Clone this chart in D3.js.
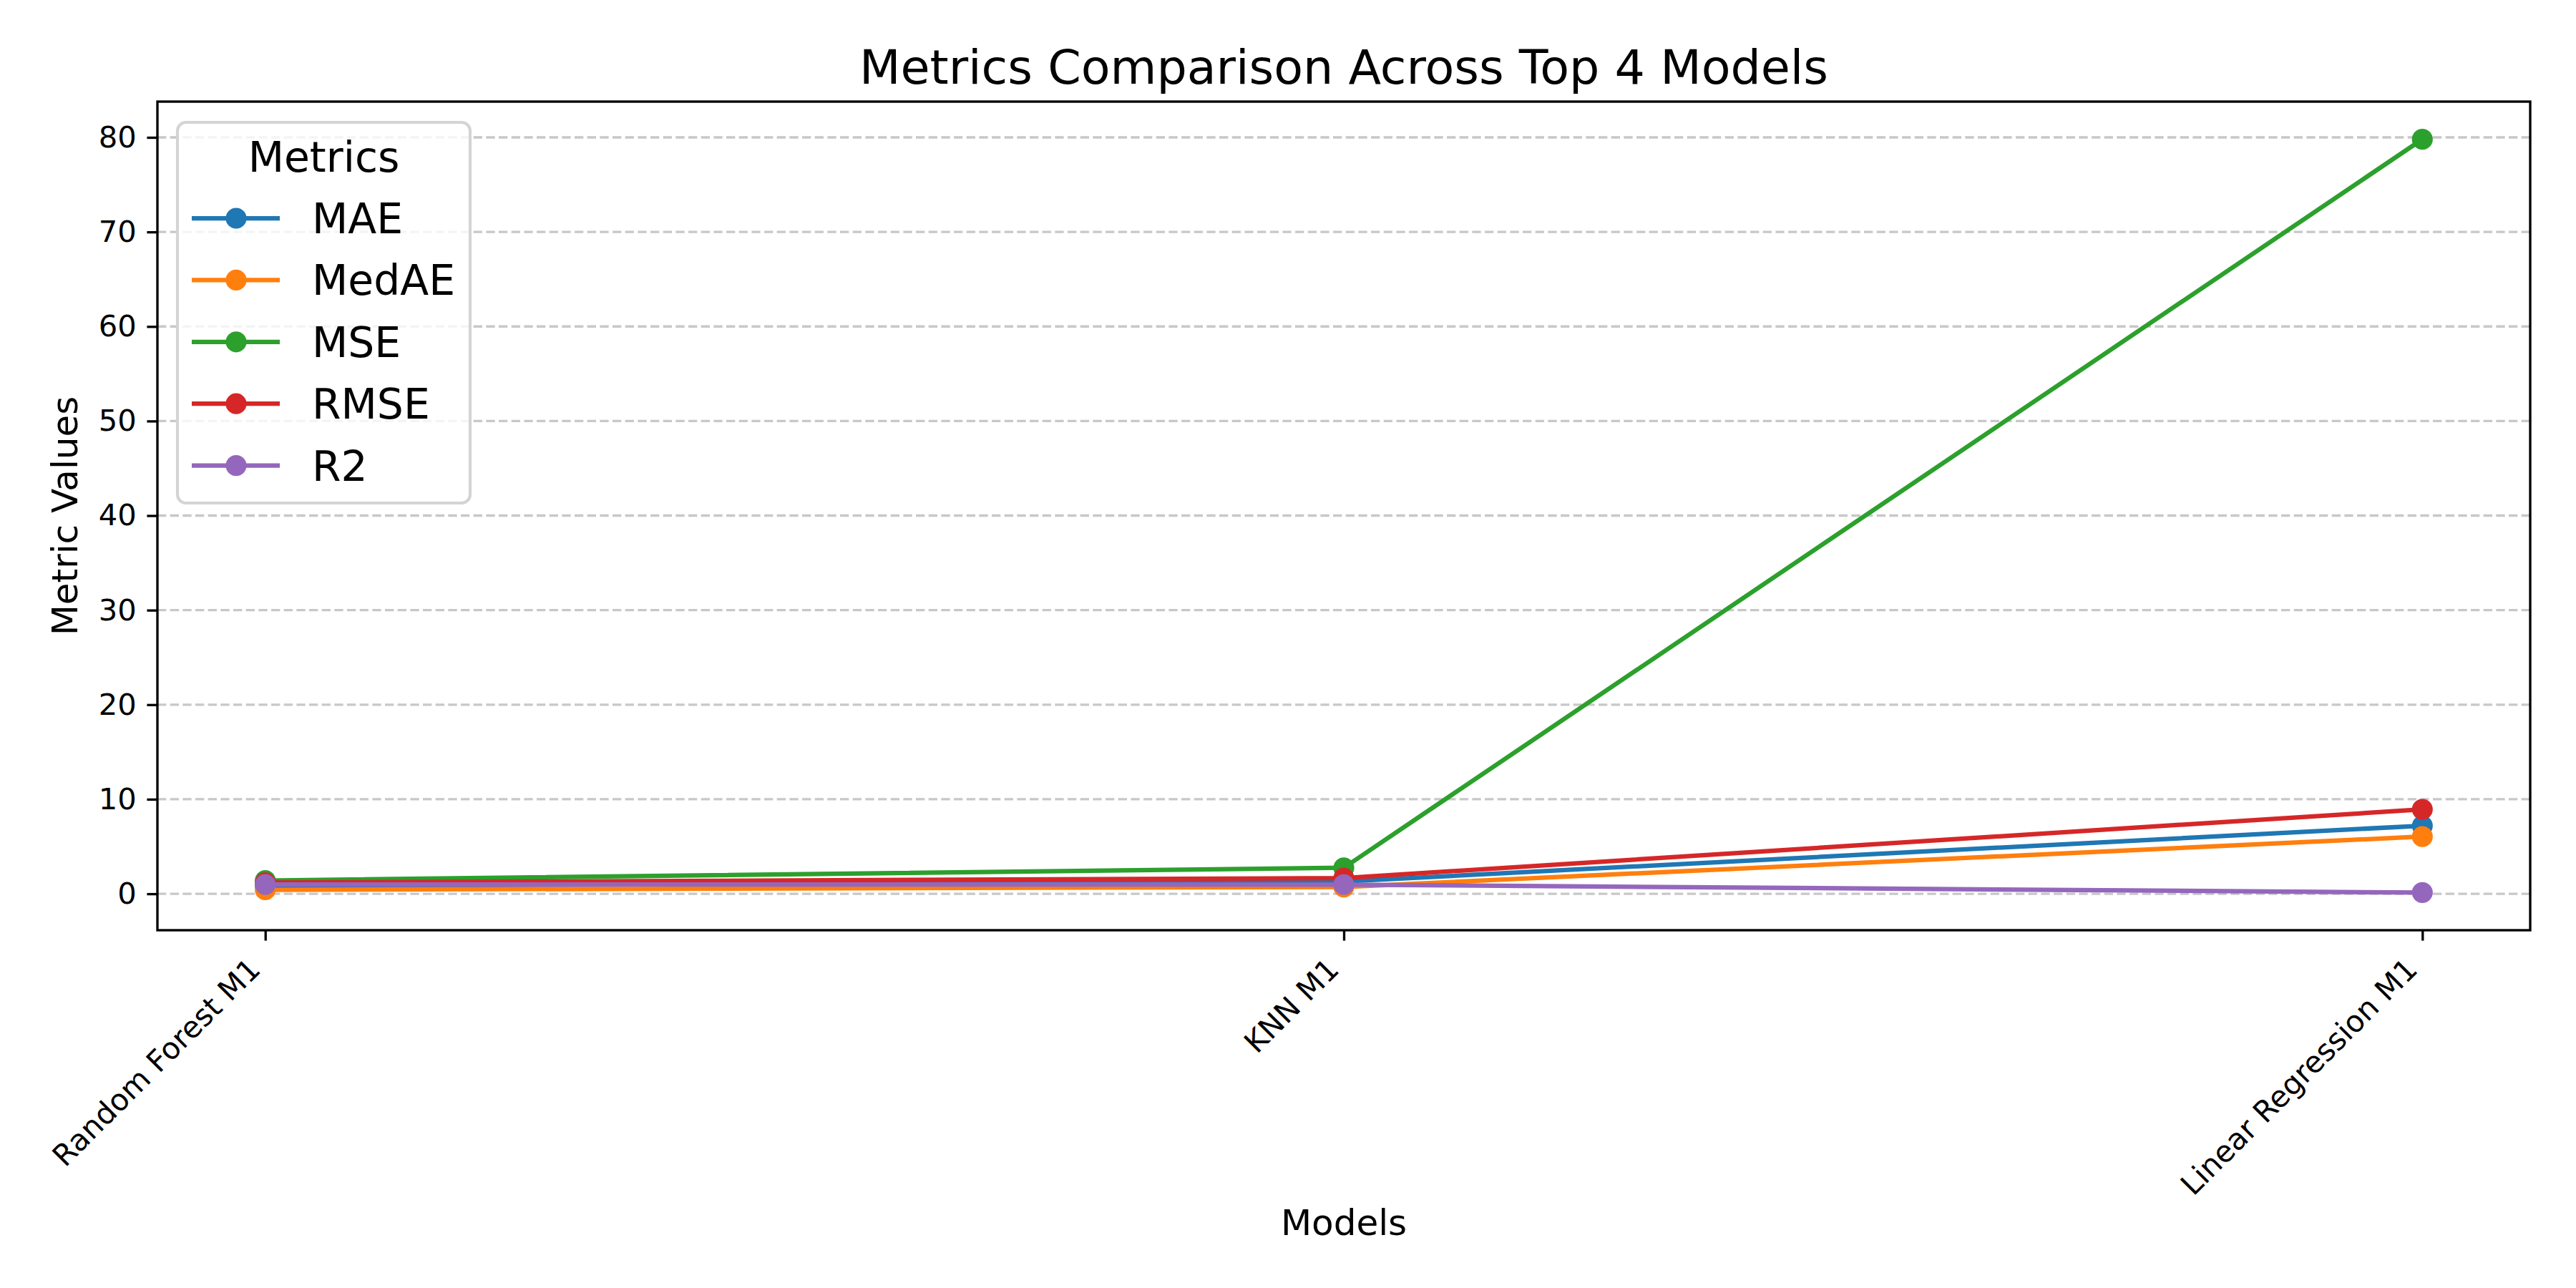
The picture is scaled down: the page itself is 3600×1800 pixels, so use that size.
<!DOCTYPE html>
<html>
<head>
<meta charset="utf-8">
<script src="https://cdn.jsdelivr.net/npm/d3@7"></script>
<style>
  body { margin: 0; background: #fff; }
  svg { display: block; font-family: "DejaVu Sans", sans-serif; }
</style>
</head>
<body>
<div id="chart"></div>
<script>
// models on the x axis
const models = ["Random Forest M1", "KNN M1", "Linear Regression M1"];

// metric series (one value per model)
const metricNames = ["MAE", "MedAE", "MSE", "RMSE", "R2"];
const maeValues = [0.82, 1.3, 7.2];
const medaeValues = [0.42, 0.72, 6.05];
const mseValues = [1.4, 2.75, 79.8];
const rmseValues = [1.18, 1.66, 8.93];
const r2Values = [0.98, 0.97, 0.13];

const yTicks = [0, 10, 20, 30, 40, 50, 60, 70, 80];
const colors = ["#1f77b4", "#ff7f0e", "#2ca02c", "#d62728", "#9467bd"];

const series = [maeValues, medaeValues, mseValues, rmseValues, r2Values].map((values, i) => ({
  name: metricNames[i],
  color: colors[i],
  values
}));

const width = 3600;
const height = 1800;
const marginTop = 142;
const marginRight = 64;
const marginBottom = 500;
const marginLeft = 220;

const pt = 300 / 72;
const markerR = 3.5 * pt;

const allValues = series.flatMap((s) => s.values);
const [vMin, vMax] = d3.extent(allValues);
const pad = (vMax - vMin) * 0.05;

const x = d3.scalePoint()
  .domain(models)
  .range([marginLeft, width - marginRight])
  .padding(0.1);

const y = d3.scaleLinear()
  .domain([vMin - pad, vMax + pad])
  .range([height - marginBottom, marginTop]);

const svg = d3.select("#chart").append("svg")
  .attr("width", width)
  .attr("height", height)
  .attr("viewBox", [0, 0, width, height]);

svg.append("rect").attr("width", width).attr("height", height).attr("fill", "#fff");

// grid
svg.append("g")
  .selectAll("line")
  .data(yTicks)
  .join("line")
  .attr("x1", marginLeft)
  .attr("x2", width - marginRight)
  .attr("y1", (d) => y(d))
  .attr("y2", (d) => y(d))
  .attr("stroke", "#c8c8c8")
  .attr("stroke-width", 0.8 * pt)
  .attr("stroke-dasharray", `${3.7 * 0.8 * pt},${1.6 * 0.8 * pt}`);

// lines and markers
const line = d3.line()
  .x((_, i) => x(models[i]))
  .y((d) => y(d));

const seriesG = svg.append("g")
  .selectAll("g")
  .data(series)
  .join("g");

seriesG.append("path")
  .attr("fill", "none")
  .attr("stroke", (d) => d.color)
  .attr("stroke-width", 1.5 * pt)
  .attr("stroke-linejoin", "round")
  .attr("stroke-linecap", "square")
  .attr("d", (d) => line(d.values));

seriesG.selectAll("circle")
  .data((d) => d.values.map((v, i) => ({ v, i, color: d.color })))
  .join("circle")
  .attr("cx", (d) => x(models[d.i]))
  .attr("cy", (d) => y(d.v))
  .attr("r", markerR)
  .attr("fill", (d) => d.color);

// axes
const xAxisG = svg.append("g")
  .attr("transform", `translate(0,${height - marginBottom})`)
  .call(d3.axisBottom(x).tickSize(3.5 * pt).tickPadding(3.5 * pt))
  .attr("font-family", null)
  .attr("font-size", 10 * pt);
xAxisG.select(".domain").remove();
xAxisG.selectAll(".tick line").attr("stroke", "#000").attr("stroke-width", 0.8 * pt);
xAxisG.selectAll(".tick text")
  .attr("fill", "#000")
  .attr("text-anchor", "end")
  .attr("dy", null)
  .attr("y", 0)
  .attr("transform", `translate(-5,${7 * pt + 28}) rotate(-45)`);

const yAxisG = svg.append("g")
  .attr("transform", `translate(${marginLeft},0)`)
  .call(d3.axisLeft(y).tickValues(yTicks).tickSize(3.5 * pt).tickPadding(3.5 * pt))
  .attr("font-family", null)
  .attr("font-size", 10 * pt);
yAxisG.select(".domain").remove();
yAxisG.selectAll(".tick line").attr("stroke", "#000").attr("stroke-width", 0.8 * pt);
yAxisG.selectAll(".tick text").attr("fill", "#000");

// frame
svg.append("rect")
  .attr("x", marginLeft)
  .attr("y", marginTop)
  .attr("width", width - marginLeft - marginRight)
  .attr("height", height - marginTop - marginBottom)
  .attr("fill", "none")
  .attr("stroke", "#000")
  .attr("stroke-width", 0.8 * pt);

// title and labels
svg.append("text")
  .attr("x", (marginLeft + width - marginRight) / 2)
  .attr("y", 117)
  .attr("text-anchor", "middle")
  .attr("font-size", 16 * pt)
  .text("Metrics Comparison Across Top 4 Models");

svg.append("text")
  .attr("x", (marginLeft + width - marginRight) / 2)
  .attr("y", 1726)
  .attr("text-anchor", "middle")
  .attr("font-size", 12 * pt)
  .text("Models");

svg.append("text")
  .attr("transform", `translate(108,${(marginTop + height - marginBottom) / 2}) rotate(-90)`)
  .attr("text-anchor", "middle")
  .attr("font-size", 12 * pt)
  .text("Metric Values");

// legend
const legend = svg.append("g").attr("transform", "translate(248,171)");
legend.append("rect")
  .attr("width", 409)
  .attr("height", 532)
  .attr("rx", 12)
  .attr("fill", "#fff")
  .attr("fill-opacity", 0.8)
  .attr("stroke", "#d4d4d4")
  .attr("stroke-width", 1 * pt);

legend.append("text")
  .attr("x", 204.5)
  .attr("y", 69)
  .attr("text-anchor", "middle")
  .attr("font-size", 14 * pt)
  .text("Metrics");

const item = legend.selectAll(".item")
  .data(series)
  .join("g")
  .attr("class", "item")
  .attr("transform", (_, i) => `translate(0,${134 + i * 86.4})`);

item.append("line")
  .attr("x1", 20)
  .attr("x2", 143)
  .attr("stroke", (d) => d.color)
  .attr("stroke-width", 1.5 * pt);

item.append("circle")
  .attr("cx", 82)
  .attr("r", markerR)
  .attr("fill", (d) => d.color);

item.append("text")
  .attr("x", 188)
  .attr("y", 21)
  .attr("font-size", 14 * pt)
  .text((d) => d.name);
</script>
</body>
</html>
